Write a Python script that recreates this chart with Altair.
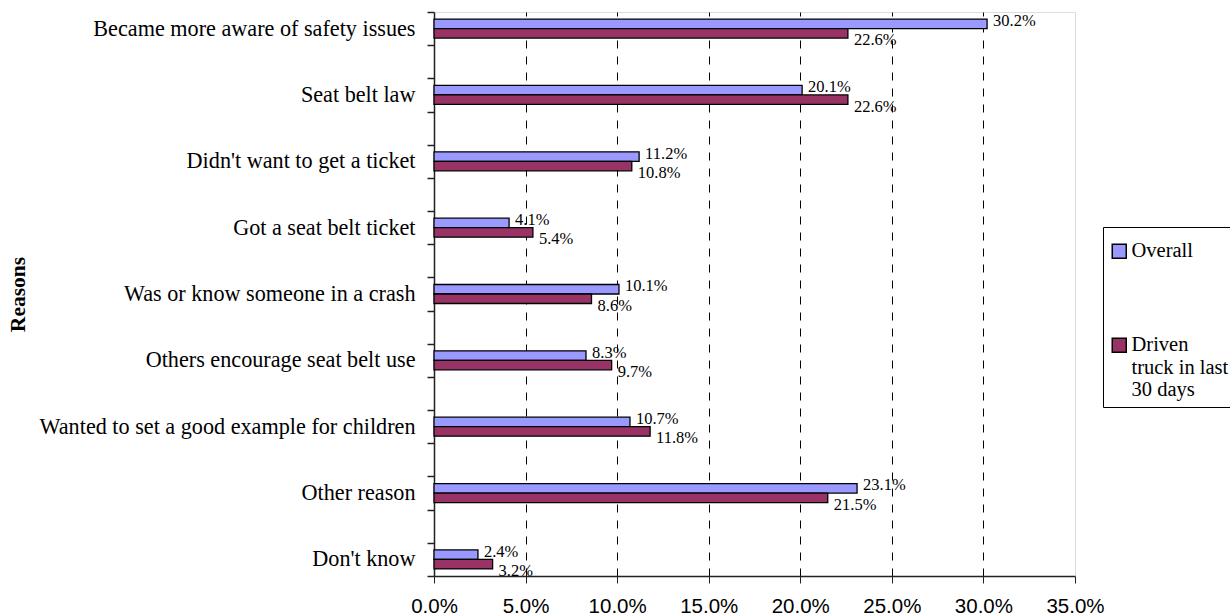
import altair as alt
import pandas as pd

categories = [
    "Became more aware of safety issues",
    "Seat belt law",
    "Didn't want to get a ticket",
    "Got a seat belt ticket",
    "Was or know someone in a crash",
    "Others encourage seat belt use",
    "Wanted to set a good example for children",
    "Other reason",
    "Don't know",
]
overall = [30.2, 20.1, 11.2, 4.1, 10.1, 8.3, 10.7, 23.1, 2.4]
driven = [22.6, 22.6, 10.8, 5.4, 8.6, 9.7, 11.8, 21.5, 3.2]
series = ["Overall", "Driven truck in last 30 days"]
colors = ["#9999FF", "#993366"]
x_ticks = [0, 5, 10, 15, 20, 25, 30, 35]
category_axis_ticks = list(range(18))

rows = []
for c, o, d in zip(categories, overall, driven):
    rows.append({"reason": c, "series": series[0], "value": o})
    rows.append({"reason": c, "series": series[1], "value": d})
df = pd.DataFrame(rows)
tick_df = pd.DataFrame({"t": category_axis_ticks})

SERIF = "Liberation Serif"
SANS = "Liberation Sans"

x_enc = alt.X(
    "value:Q",
    scale=alt.Scale(domain=[0, 35], nice=False, zero=True),
    axis=alt.Axis(
        values=x_ticks,
        labelExpr="format(datum.value, '.1f') + '%'",
        labelFlush=False,
        title=None,
        grid=True,
        gridColor="black",
        gridDash=[8, 8],
        gridWidth=1,
        gridOpacity={"condition": {"test": "datum.value <= 0 || datum.value >= 35", "value": 0}, "value": 1},
        domainColor="#222222",
        domainWidth=1.5,
        tickColor="#222222",
        tickSize=7,
        labelFont=SANS,
        labelFontSize=20.5,
        labelColor="black",
        labelPadding=13,
    ),
)
y_enc = alt.Y(
    "reason:N",
    sort=categories,
    scale=alt.Scale(paddingInner=0.714, paddingOuter=0.107),
    axis=alt.Axis(
        title="Reasons",
        titleFont=SERIF,
        titleFontSize=21.5,
        titleFontWeight="bold",
        titleColor="black",
        titleX=-416,
        titleY=282,
        titleAngle=-90,
        titleAlign="center",
        titleBaseline="middle",
        ticks=False,
        labelPadding=19,
        labelFont=SERIF,
        labelFontSize=22.2,
        labelColor="black",
        labelLimit=500,
        domainColor="#222222",
        domainWidth=1.5,
    ),
)
yoff = alt.YOffset("series:N", sort=series, scale=alt.Scale(domain=series, paddingInner=0, paddingOuter=0))

bars = alt.Chart(df).mark_bar(stroke="black", strokeWidth=1.3).encode(
    x=x_enc,
    y=y_enc,
    yOffset=yoff,
    color=alt.Color(
        "series:N",
        sort=series,
        scale=alt.Scale(domain=series, range=colors),
        legend=alt.Legend(
            title=" ",
            titleFontSize=2,
            titlePadding=6,
            orient="none",
            legendX=669,
            legendY=215,
            direction="vertical",
            symbolType="square",
            symbolSize=196,
            symbolStrokeColor="black",
            symbolStrokeWidth=1.5,
            labelFont=SERIF,
            labelFontSize=20.5,
            labelColor="black",
            labelLimit=400,
            labelOffset=2,
            labelExpr="datum.label == 'Driven truck in last 30 days' ? ['Driven', 'truck in last', '30 days'] : datum.label",
            strokeColor="black",
            padding=6,
            rowPadding=73,
        ),
    ),
)

def label_layer(name, dy):
    return alt.Chart(df).transform_filter(alt.datum.series == name).transform_calculate(
        lbl="format(datum.value, '.1f') + '%'"
    ).mark_text(
        align="left", baseline="middle", dx=6, dy=dy, font=SERIF, fontSize=16.5, color="black"
    ).encode(
        x="value:Q",
        y=alt.Y("reason:N", sort=categories),
        yOffset=yoff,
        text="lbl:N",
    )

lab_o = label_layer(series[0], -3)
lab_d = label_layer(series[1], 7)

main = alt.layer(bars, lab_o, lab_d)

ticks = alt.Chart(tick_df).mark_tick(opacity=0).encode(
    y=alt.Y(
        "t:Q",
        scale=alt.Scale(domain=[0, 17], nice=False, zero=False),
        axis=alt.Axis(
            orient="left",
            values=category_axis_ticks,
            labels=False,
            domain=False,
            grid=False,
            ticks=True,
            tickSize=7,
            tickColor="#222222",
            tickWidth=1.5,
            title=None,
        ),
    )
)

chart = alt.layer(main, ticks).resolve_scale(y="independent").properties(
    width=641,
    height=564,
    autosize=alt.AutoSizeParams(type="none"),
    padding={"left": 434, "top": 12, "right": 155, "bottom": 40},
).configure_view(stroke="#808080", strokeWidth=1.5).configure(background="white")

chart.save("out.html", embed_options={"renderer": "svg", "actions": False})
